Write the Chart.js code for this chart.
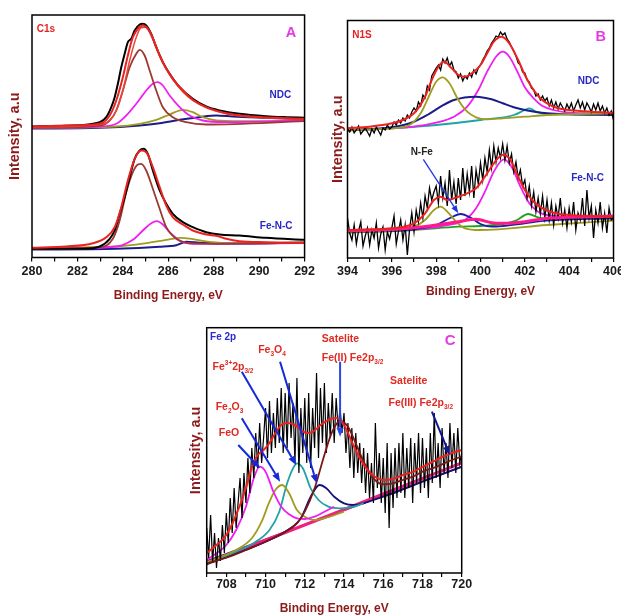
<!DOCTYPE html>
<html><head><meta charset="utf-8">
<script src="https://cdn.jsdelivr.net/npm/chart.js@4.4.1/dist/chart.umd.min.js"></script>
<style>
html,body{margin:0;padding:0;background:#fff;overflow:hidden;width:621px;height:615px;}
.box{position:absolute;}
</style></head><body>
<div class="box" style="left:0;top:0;"><canvas id="cA" width="318" height="305"></canvas></div>
<div class="box" style="left:318px;top:0;"><canvas id="cB" width="310" height="305"></canvas></div>
<div class="box" style="left:170px;top:315px;"><canvas id="cC" width="310" height="302"></canvas></div>
<script>
// ---------- axis ranges ----------
const A_xRange = [280, 292];
const B_xRange = [394, 406];
const C_xRange = [707, 720];

// ---------- Panel A : C1s (x = eV, y = intensity a.u.) ----------
const A_NDC_raw = [[280,131.0],[281.5,131.7],[282.98,135.3],[283.27,140.3],[283.49,150.3],[283.64,160.3],[283.78,173.7],[283.93,190.3],[284.08,203.7],[284.22,215.3],[284.37,218.7],[284.52,227.0],[284.74,233.0],[284.88,233.7],[285.03,232.0],[285.25,223.7],[285.47,210.3],[285.76,195.3],[286.06,183.7],[286.5,170.3],[287.08,158.7],[287.67,151.0],[288.26,147.0],[289.13,143.7],[290.3,141.3],[291.2,140.3],[292,139.7]];
const A_NDC_fit = [[280,131],[281.5,132],[282.98,133.7],[283.42,142],[283.71,157],[284.0,180.3],[284.22,202],[284.44,220.3],[284.66,228.7],[284.88,232],[285.1,228.7],[285.32,218.7],[285.62,202],[285.91,188.7],[286.2,178.7],[286.57,168.7],[287.08,157.7],[287.67,150.3],[288.55,144.3],[289.72,141],[292,138.7]];
const A_NDC_fit2 = [[280,130.3],[283,133],[283.42,137],[283.71,147],[284.0,167],[284.3,197],[284.59,220.3],[284.8,229.7],[285.0,230.3],[285.2,225.3],[285.4,215.3],[285.62,202],[286.2,178],[287.08,157],[288.55,143.7],[292,138]];
const A_NDC_c1 = [[280,129.7],[282.98,132],[283.42,137],[283.71,147],[284.0,167],[284.3,190.3],[284.59,203.7],[284.74,207.7],[284.96,202],[285.18,187],[285.47,167],[285.76,150.3],[286.2,140.3],[286.79,135.3],[287.67,133],[292,136.3]];
const A_NDC_c2 = [[280,129.7],[282.98,131],[283.71,133.7],[284.15,142],[284.59,153.7],[285.03,167],[285.32,173.7],[285.54,175.3],[285.76,172],[286.06,162],[286.5,150.3],[286.94,142],[287.52,137],[288.55,135.3],[292,137]];
const A_NDC_c3 = [[280,129.7],[283.71,131],[284.74,133.7],[285.47,137.7],[286.06,143],[286.64,147.7],[287.08,145.3],[287.52,140.3],[288.11,137],[289.13,136.3],[292,137]];
const A_NDC_bg = [[280,129],[282.98,129.7],[284.74,132],[285.62,134.3],[286.5,137.7],[287.37,140.3],[288.11,142],[288.84,141],[290.3,139.7],[292,138.3]];

const A_FNC_raw = [[280,8.7],[282.24,8.7],[282.98,11],[283.42,18.7],[283.64,27],[283.86,43.7],[284.08,60.3],[284.3,80.3],[284.52,98.7],[284.74,107],[284.91,108.7],[285.1,103.7],[285.32,87],[285.62,67],[285.91,53.7],[286.2,43.7],[286.64,35.3],[287.08,30.3],[287.67,25.3],[288.26,23],[289.13,22],[290.3,19.7],[292,17.7]];
const A_FNC_fit = [[280,9.7],[281.5,11],[282.68,14.3],[283.27,20.3],[283.64,30.3],[283.93,50.3],[284.22,77],[284.52,98.7],[284.81,107],[285.03,105.3],[285.32,90.3],[285.62,70.3],[285.91,52],[286.2,40.3],[286.64,33],[287.08,27],[287.67,23],[288.11,21.7],[288.55,18.7],[289.13,16.3],[290.3,15.3],[292,14.7]];
const A_FNC_c1 = [[280,8.3],[282.98,10.3],[283.56,18.7],[283.86,37],[284.15,65.3],[284.44,85.3],[284.66,93],[284.81,93.7],[285.03,87],[285.32,68.7],[285.62,48.7],[285.91,30.3],[286.35,18.7],[286.94,14.3],[288.11,13.7],[292,14.7]];
const A_FNC_c2 = [[280,8.3],[283.71,11],[284.44,17.7],[284.88,27],[285.25,34.3],[285.5,36.3],[285.76,33],[286.06,25.3],[286.5,17],[287.08,13.7],[292,14.3]];
const A_FNC_c3 = [[280,9.7],[283.71,11],[285.03,14.3],[285.91,17.7],[286.57,19.7],[287.08,18.3],[287.82,15.7],[288.84,14.3],[292,15]];
const A_FNC_bg = [[280,8],[283.71,8.7],[285.62,10.7],[286.35,12.3],[286.79,15.7],[287.37,14.7],[288.84,14],[292,15]];

// ---------- Panel B : N1s ----------
const B_X = [394.0,394.1,394.2,394.3,394.4,394.5,394.6,394.7,394.8,394.9,
395.0,395.1,395.2,395.3,395.4,395.5,395.6,395.7,395.8,395.9,
396.0,396.1,396.2,396.3,396.4,396.5,396.6,396.7,396.8,396.9,
397.0,397.1,397.2,397.3,397.4,397.5,397.6,397.7,397.8,397.9,
398.0,398.1,398.2,398.3,398.4,398.5,398.6,398.7,398.8,398.9,
399.0,399.1,399.2,399.3,399.4,399.5,399.6,399.7,399.8,399.9,
400.0,400.1,400.2,400.3,400.4,400.5,400.6,400.7,400.8,400.9,
401.0,401.1,401.2,401.3,401.4,401.5,401.6,401.7,401.8,401.9,
402.0,402.1,402.2,402.3,402.4,402.5,402.6,402.7,402.8,402.9,
403.0,403.1,403.2,403.3,403.4,403.5,403.6,403.7,403.8,403.9,
404.0,404.1,404.2,404.3,404.4,404.5,404.6,404.7,404.8,404.9,
405.0,405.1,405.2,405.3,405.4,405.5,405.6,405.7,405.8,405.9,406.0];
const B_NDC_rawY = [129,126,131,125,128,132,124,127,130,126,
122,129,125,131,127,123,130,128,133,129,
131,136,133,138,135,140,137,143,140,146,
150,147,156,152,163,160,172,168,182,186,
190,193,188,199,195,200,192,196,188,186,
180,184,177,182,179,185,181,188,184,190,
193,198,202,207,210,215,218,222,221,226,
223,225,219,216,211,207,202,195,193,186,
185,178,176,170,168,162,164,158,162,157,
160,152,158,150,156,149,155,151,147,154,
149,155,147,153,158,150,156,148,155,151,
146,154,148,155,147,152,145,150,143,147,138];
const B_NDC_fit = [[394,129.7],[395,131.3],[396,134.7],[396.5,138],[397,144.7],[397.5,161.3],[397.8,178],[398.1,191.3],[398.35,196.3],[398.7,189.7],[399,183],[399.3,181.3],[399.7,186.3],[400,193],[400.3,204.7],[400.6,216.3],[400.95,221.3],[401.3,214.7],[401.7,198],[402,183],[402.3,171.3],[402.7,159.7],[403,154.7],[403.5,149.7],[404,148],[405,146.3],[406,145.3]];
const B_NDC_c1 = [[394,128],[396,129.7],[396.8,133],[397.3,144.7],[397.7,163],[398,176.3],[398.3,180.7],[398.6,174.7],[399,158],[399.4,146.3],[399.8,140.7],[400.3,138.7],[401,139.7],[402,141.3],[403,143],[406,144.7]];
const B_NDC_c2 = [[394,128],[396,130.7],[397,136.3],[397.6,143],[398.2,151.3],[398.8,158],[399.8,161.3],[400.5,158.7],[401,154.7],[401.5,150.7],[402,148],[402.5,146],[403,144.7],[404,143.7],[406,143]];
const B_NDC_c3 = [[394,128],[397,131.3],[398,135.3],[398.8,141.3],[399.4,151.3],[399.9,168],[400.3,186.3],[400.7,201.3],[401,206.3],[401.3,201.3],[401.7,184.7],[402,170.7],[402.4,159.7],[402.8,152],[403.3,148],[404,145.3],[405,144.7],[406,144]];
const B_NDC_c4 = [[394,127.3],[396,129.7],[398,133],[400,138],[401.5,143],[402,148],[402.2,149.7],[402.5,146.3],[403,144],[404,143.7],[406,143.7]];

const B_FNC_rawY = [40,25,18,33,14,27,36,12,22,30,
13,28,20,35,10,24,31,8,26,19,
30,42,14,27,38,18,33,3,29,45,
26,48,36,55,40,62,50,70,58,66,
72,55,82,60,75,52,88,58,76,54,
80,58,90,62,84,66,92,60,88,74,
95,78,100,86,108,90,112,96,110,100,
114,98,112,95,104,86,96,80,88,72,
78,60,72,52,66,46,60,44,62,40,
58,38,55,33,52,40,60,35,48,30,
50,36,56,28,45,38,60,32,68,40,
52,20,48,35,56,30,45,25,50,38,40];
const B_FNC_fit = [[394,28],[396,29.7],[397,34.7],[397.5,44.7],[397.9,58],[398.2,61.3],[398.5,58],[399,61.3],[399.4,64.7],[399.8,69.7],[400.2,81.3],[400.6,94.7],[401,103],[401.3,99.7],[401.7,81.3],[402,68],[402.4,56.3],[402.8,49.7],[403.3,45.3],[404,43],[405,42],[406,41.3]];
const B_FNC_c1 = [[394,26.3],[396,28],[397,31.3],[397.5,38],[397.9,48],[398.2,51.3],[398.5,46.3],[398.9,36.3],[399.3,29.7],[400,28],[403,33],[406,37.3]];
const B_FNC_NFe = [[394,26.3],[397,28.7],[398,33],[398.6,39.7],[399.1,44],[399.6,39.7],[400,34],[400.5,31.3],[401,32],[402,34.7],[403,37.3],[406,39.7]];
const B_FNC_c3 = [[394,26.3],[397,28.7],[398.5,33],[399.3,38],[399.8,49.7],[400.2,66.3],[400.6,86.3],[401.05,98.7],[401.4,91.3],[401.8,71.3],[402.2,54.7],[402.6,46.3],[403,43],[404,41.3],[406,40.7]];
const B_FNC_bg = [[394,27.3],[396,28.7],[397,30.3],[398,33],[399,36.3],[399.8,38.7],[400.5,35.3],[401,34.7],[402,36.3],[403,39.7],[404,40.7],[406,42]];
const B_FNC_c5 = [[394,25.3],[397,28],[399,31.3],[400,32],[401,34],[401.6,37.3],[402.15,44],[402.6,40.7],[403,38.7],[404,39.7],[406,40.7]];

// ---------- Panel C : Fe 2p ----------
const C_X = [707.0,707.1,707.2,707.3,707.4,707.5,707.6,707.7,707.8,707.9,
708.0,708.1,708.2,708.3,708.4,708.5,708.6,708.7,708.8,708.9,
709.0,709.1,709.2,709.3,709.4,709.5,709.6,709.7,709.8,709.9,
710.0,710.1,710.2,710.3,710.4,710.5,710.6,710.7,710.8,710.9,
711.0,711.1,711.2,711.3,711.4,711.5,711.6,711.7,711.8,711.9,
712.0,712.1,712.2,712.3,712.4,712.5,712.6,712.7,712.8,712.9,
713.0,713.1,713.2,713.3,713.4,713.5,713.6,713.7,713.8,713.9,
714.0,714.1,714.2,714.3,714.4,714.5,714.6,714.7,714.8,714.9,
715.0,715.1,715.2,715.3,715.4,715.5,715.6,715.7,715.8,715.9,
716.0,716.1,716.2,716.3,716.4,716.5,716.6,716.7,716.8,716.9,
717.0,717.1,717.2,717.3,717.4,717.5,717.6,717.7,717.8,717.9,
718.0,718.1,718.2,718.3,718.4,718.5,718.6,718.7,718.8,718.9,
719.0,719.1,719.2,719.3,719.4,719.5,719.6,719.7,719.8,719.9,720.0];
const C_rawY = [45,15,58,10,40,5,35,12,48,20,
60,30,75,40,85,45,70,95,55,100,
70,115,80,125,95,140,105,150,110,135,
165,115,172,120,160,125,175,130,185,120,
180,125,190,135,170,110,195,100,165,120,
175,110,180,105,165,125,200,115,185,130,
190,120,170,135,180,130,175,145,165,140,
160,120,150,105,145,95,140,100,130,90,
125,80,120,75,110,70,150,85,120,70,
115,60,130,45,120,65,125,75,130,80,
140,75,125,85,135,70,130,90,140,80,
135,85,125,75,140,90,160,95,130,85,
145,100,130,95,150,105,140,100,145,110,120];
const C_fit = [[707,19.7],[707.5,28],[708,38],[708.5,58],[709,85],[709.3,106],[709.6,118],[709.9,123],[710.2,130],[710.5,140],[710.8,148],[711.1,150],[711.5,148],[711.8,143],[712.1,140],[712.4,141],[712.8,148],[713.2,153],[713.6,155],[714,148],[714.4,131],[714.8,115],[715.2,103],[715.6,96],[716,93],[716.5,94],[717,98],[717.5,101],[718,106],[718.5,111],[719,116],[719.5,120],[720,123]];
const C_satII = [[707,9.7],[708,15.3],[709,23],[710,31.3],[711,41.3],[711.6,49.7],[712,61.3],[712.5,84.7],[713,118],[713.4,141.3],[713.8,152],[714.2,146.3],[714.6,129.7],[715,111.3],[715.5,94.7],[716,88.7],[716.5,89.7],[717,93],[717.5,96.3],[718,101.3],[718.5,104.7],[719,108.7],[719.5,113],[720,116.3]];
const C_FeO = [[707,13],[707.5,19.7],[708,28],[708.5,43],[709,66.3],[709.4,94.7],[709.7,106.3],[710,101.3],[710.4,81.3],[710.8,66.3],[711.2,58.7],[711.6,54.7],[712,54],[712.5,56.3],[713,61.3],[713.5,66.3]];
const C_Fe2O3 = [[707,10.7],[708.5,23],[709.3,34.7],[709.8,51.3],[710.2,71.3],[710.5,83],[710.85,88],[711.2,79.7],[711.6,63],[712,56.3],[712.5,53],[713,54.7],[714,61.3]];
const C_Fe3p = [[707,9.7],[708.5,21.3],[709.5,31.3],[710.2,43],[710.7,61.3],[711.1,89.7],[711.4,104.7],[711.6,109.7],[711.9,104.7],[712.3,84.7],[712.7,73],[713.2,66.3],[713.8,64.7],[714.5,66.3],[715,69.7]];
const C_Fe3O4 = [[707,8.7],[710,31.3],[711,41.3],[711.8,54.7],[712.3,76.3],[712.75,88],[713.1,84.7],[713.5,76.3],[714,69.7],[714.5,68],[715,69.7],[715.5,73],[716,76.3],[716.5,79.7],[718,91.3],[720,106.3]];
const C_bg = [[707,10],[713.3,58],[720,110]];
const C_bg2 = [[707,12],[720,106]];

// ---------- helpers ----------
const FAM = '"Liberation Sans", Arial, Helvetica, sans-serif';
const pts = a => a.map(p => ({x: p[0], y: p[1]}));
const zip = (xs, ys) => xs.map((x, i) => ({x: x, y: ys[i]}));
function ds(data, color, width, smooth) {
  return {data: data, borderColor: color, borderWidth: width, pointRadius: 0, fill: false,
    tension: 0, cubicInterpolationMode: smooth ? 'monotone' : 'default'};
}
function drawRich(ctx, px, py, t) {
  const w = t.bold === false ? 'normal' : 'bold';
  let total = 0;
  const parts = t.parts.map(p => ({t: p[0], s: p[1] || ''}));
  parts.forEach(p => { const s = p.s ? t.size * 0.62 : t.size; ctx.font = w + ' ' + s + 'px ' + FAM; p.w = ctx.measureText(p.t).width; total += p.w; });
  let cx = t.align === 'left' ? px : px - total / 2;
  ctx.fillStyle = t.color; ctx.textBaseline = 'middle'; ctx.textAlign = 'left';
  parts.forEach(p => {
    const s = p.s ? t.size * 0.62 : t.size; ctx.font = w + ' ' + s + 'px ' + FAM;
    const dy = p.s === 'sub' ? t.size * 0.4 : (p.s === 'sup' ? -t.size * 0.38 : 0);
    ctx.fillText(p.t, cx, py + dy); cx += p.w;
  });
}
function notesPlugin(notes) {
  return {
    id: 'notes',
    afterDatasetsDraw(chart) {
      const ctx = chart.ctx, a = chart.chartArea, X = chart.scales.x, Y = chart.scales.y;
      ctx.save();
      ctx.strokeStyle = '#000'; ctx.lineWidth = 1.5;
      ctx.strokeRect(a.left, a.top, a.right - a.left, a.bottom - a.top);
      (notes.arrows || []).forEach(ar => {
        const x1 = X.getPixelForValue(ar.x1), y1 = Y.getPixelForValue(ar.y1);
        const x2 = X.getPixelForValue(ar.x2), y2 = Y.getPixelForValue(ar.y2);
        const ang = Math.atan2(y2 - y1, x2 - x1), L = ar.head || 9, W = ar.headW || 3.6;
        const bx = x2 - L * Math.cos(ang), by = y2 - L * Math.sin(ang);
        ctx.strokeStyle = ar.color; ctx.lineWidth = ar.width || 2;
        ctx.beginPath(); ctx.moveTo(x1, y1); ctx.lineTo(bx, by); ctx.stroke();
        ctx.fillStyle = ar.color; ctx.beginPath(); ctx.moveTo(x2, y2);
        ctx.lineTo(bx + W * Math.sin(ang), by - W * Math.cos(ang));
        ctx.lineTo(bx - W * Math.sin(ang), by + W * Math.cos(ang)); ctx.closePath(); ctx.fill();
      });
      (notes.texts || []).forEach(t => drawRich(ctx, X.getPixelForValue(t.x), Y.getPixelForValue(t.y), t));
      ctx.restore();
    }
  };
}
function makeChart(id, cfg) {
  const xs = {
    type: 'linear', min: cfg.xr[0], max: cfg.xr[1],
    ticks: {stepSize: 1, autoSkip: false, maxRotation: 0, padding: cfg.tickPad, color: '#1a1a1a',
      font: {family: FAM, size: 12.5, weight: 'bold'},
      callback: v => (Math.round(v) % 2 === 0 ? String(v) : '')},
    grid: {display: true, drawOnChartArea: false, drawTicks: true, tickLength: 4, color: '#000', lineWidth: 1.2},
    border: {display: false},
    title: {display: true, text: 'Binding Energy, eV', color: '#8b1a1a', font: {family: FAM, size: 12, weight: 'bold'},
      padding: {top: 0, bottom: cfg.xTitlePad}},
    afterFit: s => { s.height = cfg.xH; }
  };
  const ys = {
    type: 'linear', min: 0, max: cfg.yMax,
    ticks: {display: false}, grid: {display: false}, border: {display: false},
    title: {display: true, text: 'Intensity, a.u', color: '#8b1a1a', font: {family: FAM, size: 14.5, weight: 'bold'},
      padding: {top: cfg.yTitlePad, bottom: 0}},
    afterFit: s => { s.width = cfg.yW; }
  };
  return new Chart(document.getElementById(id), {
    type: 'line',
    data: {datasets: cfg.datasets},
    options: {
      responsive: false, animation: false, devicePixelRatio: 1, events: [],
      layout: {padding: cfg.pad},
      scales: {x: xs, y: ys},
      plugins: {legend: {display: false}, tooltip: {enabled: false}}
    },
    plugins: [notesPlugin(cfg.notes)]
  });
}

const RED = '#ea2320', BRN = '#9b3a33', MAG = '#f01ef0', OLV = '#a09c1e', NAV = '#1c1c88', TEAL = '#1fa3a3', PINK = '#f0207e', GRN = '#21a021';
const BLUE_T = '#2828c8';

// ---------- Chart A ----------
makeChart('cA', {
  xr: A_xRange, yMax: 242.5, yW: 32, xH: 47.5, pad: {left: 0, top: 15, right: 12.5, bottom: 0},
  tickPad: 3, xTitlePad: 1.8, yTitlePad: 6.3,
  datasets: [
    ds(pts(A_NDC_fit), RED, 2, true), ds(pts(A_NDC_fit2), '#e8483c', 1.5, true), ds(pts(A_NDC_raw), '#000', 2, true),
    ds(pts(A_NDC_c1), BRN, 1.8, true), ds(pts(A_NDC_c2), MAG, 1.8, true), ds(pts(A_NDC_c3), OLV, 1.8, true), ds(pts(A_NDC_bg), NAV, 2, true),
    ds(pts(A_FNC_fit), RED, 2, true), ds(pts(A_FNC_raw), '#000', 2, true),
    ds(pts(A_FNC_c1), BRN, 1.8, true), ds(pts(A_FNC_c2), MAG, 1.8, true), ds(pts(A_FNC_c3), OLV, 1.8, true), ds(pts(A_FNC_bg), NAV, 2, true)
  ],
  notes: {texts: [
    {x: 280.61, y: 228.2, parts: [['C1s']], color: '#e52222', size: 10},
    {x: 291.4, y: 224.2, parts: [['A']], color: '#e23ce2', size: 14.5},
    {x: 290.93, y: 162.5, parts: [['NDC']], color: BLUE_T, size: 10},
    {x: 290.75, y: 31.5, parts: [['Fe-N-C']], color: BLUE_T, size: 10}
  ]}
});

// ---------- Chart B ----------
makeChart('cB', {
  xr: B_xRange, yMax: 237.5, yW: 29.5, xH: 47, pad: {left: 0, top: 20.5, right: 14.5, bottom: 0},
  tickPad: 2, xTitlePad: 6.1, yTitlePad: 10.8,
  datasets: [
    ds(pts(B_NDC_fit), RED, 2, true), ds(zip(B_X, B_NDC_rawY), '#000', 1.3, false),
    ds(pts(B_NDC_c1), OLV, 1.8, true), ds(pts(B_NDC_c2), NAV, 2, true), ds(pts(B_NDC_c3), MAG, 1.8, true), ds(pts(B_NDC_c4), TEAL, 1.8, true),
    ds(pts(B_FNC_fit), RED, 2, true), ds(pts(B_FNC_bg), '#ff1a8c', 3, true), ds(zip(B_X, B_FNC_rawY), '#000', 1.3, false),
    ds(pts(B_FNC_c1), OLV, 1.8, true), ds(pts(B_FNC_NFe), '#1c1ca8', 1.8, true), ds(pts(B_FNC_c3), MAG, 1.8, true), ds(pts(B_FNC_c5), GRN, 1.8, true)
  ],
  notes: {
    arrows: [{x1: 397.42, y1: 98.7, x2: 399.0, y2: 44.7, color: '#2035e0', width: 1.3, head: 8, headW: 3}],
    texts: [
      {x: 394.65, y: 222.3, parts: [['N1S']], color: '#e52222', size: 10},
      {x: 405.42, y: 221.3, parts: [['B']], color: '#e23ce2', size: 14.5},
      {x: 404.88, y: 176.3, parts: [['NDC']], color: BLUE_T, size: 10},
      {x: 404.83, y: 79.7, parts: [['Fe-N-C']], color: BLUE_T, size: 10},
      {x: 397.35, y: 105.3, parts: [['N-Fe']], color: '#222', size: 10}
    ]}
});

// ---------- Chart C ----------
const LBL = '#e02a22';
makeChart('cC', {
  xr: C_xRange, yMax: 245.3, yW: 36.7, xH: 44, pad: {left: 0, top: 12.7, right: 18.3, bottom: 0},
  tickPad: 0, xTitlePad: 0.8, yTitlePad: 17.3,
  datasets: [
    ds(pts(C_fit), RED, 2, true), ds(pts(C_satII), '#7a1616', 1.8, true), ds(zip(C_X, C_rawY), '#000', 1.2, false),
    ds(pts(C_FeO), MAG, 1.8, true), ds(pts(C_Fe2O3), OLV, 1.8, true), ds(pts(C_Fe3p), TEAL, 1.8, true), ds(pts(C_Fe3O4), '#12127a', 1.8, true),
    ds(pts(C_bg), PINK, 3, false), ds(pts(C_bg2), '#3a2a8a', 1.5, false)
  ],
  notes: {
    arrows: [
      {x1: 708.61, y1: 128, x2: 709.72, y2: 104.7, color: '#1428dc', width: 2},
      {x1: 708.79, y1: 154.7, x2: 710.74, y2: 91.3, color: '#1428dc', width: 2},
      {x1: 708.79, y1: 201.3, x2: 711.56, y2: 108, color: '#1428dc', width: 2},
      {x1: 710.74, y1: 211.3, x2: 712.61, y2: 89.7, color: '#1428dc', width: 2},
      {x1: 713.80, y1: 211.3, x2: 713.80, y2: 136.3, color: '#2848e8', width: 2},
      {x1: 718.48, y1: 161.3, x2: 719.39, y2: 118, color: '#101890', width: 2}
    ],
    texts: [
      {x: 707.17, y: 235.3, parts: [['Fe 2p']], color: '#2a2ad0', size: 10, align: 'left'},
      {x: 719.41, y: 232, parts: [['C']], color: '#e23ce2', size: 15},
      {x: 710.33, y: 223, parts: [['Fe'], ['3', 'sub'], ['O'], ['4', 'sub']], color: LBL, size: 10.5},
      {x: 708.34, y: 206, parts: [['Fe'], ['3+', 'sup'], ['2p'], ['3/2', 'sub']], color: LBL, size: 10.5},
      {x: 708.16, y: 166.3, parts: [['Fe'], ['2', 'sub'], ['O'], ['3', 'sub']], color: LBL, size: 10.5},
      {x: 708.14, y: 139.7, parts: [['FeO']], color: LBL, size: 10.5},
      {x: 712.87, y: 234, parts: [['Satelite']], color: LBL, size: 10.5, align: 'left'},
      {x: 712.87, y: 215, parts: [['Fe(II) Fe2p'], ['3/2', 'sub']], color: LBL, size: 10.5, align: 'left'},
      {x: 716.35, y: 192, parts: [['Satelite']], color: LBL, size: 10.5, align: 'left'},
      {x: 716.27, y: 170.3, parts: [['Fe(III) Fe2p'], ['3/2', 'sub']], color: LBL, size: 10.5, align: 'left'}
    ]}
});
</script>
</body></html>
